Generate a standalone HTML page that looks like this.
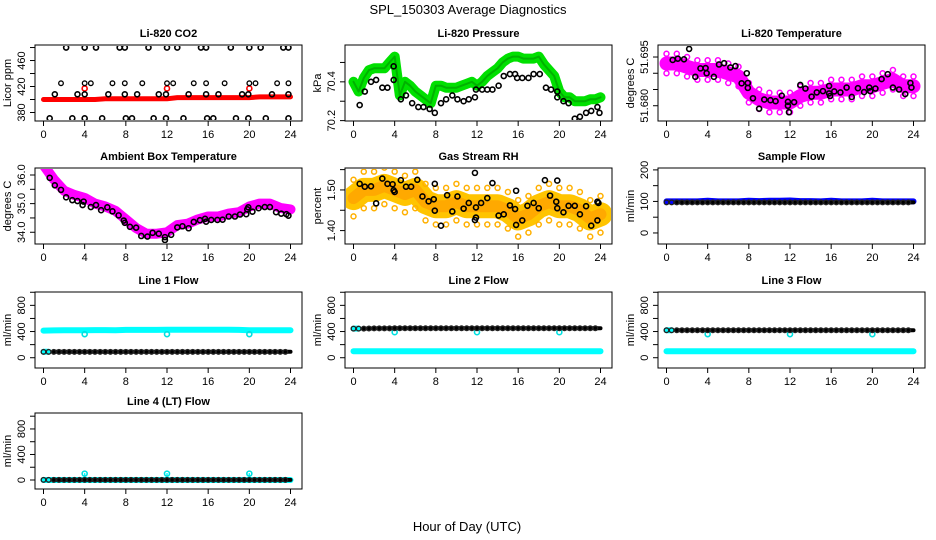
<!DOCTYPE html>
<html><head><meta charset="utf-8"><style>
html,body{margin:0;padding:0;background:#fff;}
svg{display:block;font-family:"Liberation Sans",Arial,sans-serif;}
</style></head><body>
<svg id="c" width="936" height="540" viewBox="0 0 936 540" xmlns="http://www.w3.org/2000/svg">
<text x="468" y="14" text-anchor="middle" font-size="13">SPL_150303  Average Diagnostics</text>
<text x="467" y="531" text-anchor="middle" font-size="13">Hour of Day (UTC)</text>
</svg>
<script>
// ---------- data ----------
const hours = [0,1,2,3,4,5,6,7,8,9,10,11,12,13,14,15,16,17,18,19,20,21,22,23,24];
const halfHours = [0,0.5,1,1.5,2,2.5,3,3.5,4,4.5,5,5.5,6,6.5,7,7.5,8,8.5,9,9.5,10,10.5,11,11.5,12,12.5,13,13.5,14,14.5,15,15.5,16,16.5,17,17.5,18,18.5,19,19.5,20,20.5,21,21.5,22,22.5,23,23.5,24];
const xTicks = [0,4,8,12,16,20,24];

// CO2
const co2Red = [400,400,400,400,400,400,401,401,401,401,401,401,401,403,403,403,403,403,403,403,403,404,404,404,404];
const co2RedOutX = [4,12,20];
const co2RedOutY = [417,417,417];
const co2HiX = [2.2,4,5.1,7.4,7.9,10.2,12,13,15.3,15.8,18.2,20,21.1,23.3,23.8];
const co2HiY = [480,480,480,480,480,480,480,480,480,480,480,480,480,480,480];
const co2MidX = [1.7,4,4.6,6.7,7.9,9.6,12,12.6,14.6,15.8,17.6,20,20.6,22.7,23.8];
const co2MidY = [425,425,425,425,425,425,425,425,425,425,425,425,425,425,425];
const co2LowX = [1.1,3.3,4,6.3,7.9,9.1,11.2,11.9,14.1,15.8,17,19.3,19.9,22.2,23.8];
const co2LowY = [408,408,408,408,408,408,408,408,408,408,408,408,408,408,408];
const co2BotX = [0.6,2.8,4,5.7,8,8.6,10.7,11.9,13.6,15.9,16.5,18.7,19.9,21.6,23.8];
const co2BotY = [371,371,371,371,371,371,371,371,371,371,371,371,371,371,371];

// Pressure
const presGreen = [70.40,70.35,70.42,70.46,70.47,70.47,70.47,70.50,70.53,70.33,70.40,70.38,70.35,70.33,70.31,70.29,70.38,70.38,70.37,70.37,70.37,70.38,70.39,70.40,70.38,70.40,70.43,70.45,70.47,70.50,70.52,70.53,70.53,70.52,70.52,70.52,70.53,70.49,70.46,70.43,70.35,70.32,70.32,70.30,70.30,70.30,70.31,70.31,70.32];
const presBlkX = [0.6,1.1,1.7,2.2,2.8,3.3,3.9,3.9,4.6,5.1,5.7,6.3,6.8,7.4,7.9,8.5,9,9.6,10.1,10.7,11.2,11.8,11.9,12.5,13,13.5,14.1,14.6,15.2,15.7,15.9,16.4,17,17.5,18.1,18.7,19.2,19.8,19.8,20.4,20.9,21.5,22,22.6,23.1,23.7,23.9];
const presBlkY = [70.28,70.35,70.40,70.41,70.37,70.37,70.48,70.41,70.31,70.33,70.29,70.27,70.27,70.26,70.24,70.29,70.31,70.33,70.31,70.30,70.31,70.32,70.36,70.36,70.36,70.36,70.38,70.43,70.44,70.44,70.42,70.42,70.42,70.44,70.44,70.37,70.36,70.35,70.32,70.30,70.29,70.21,70.22,70.24,70.25,70.27,70.24];

// Li-820 temperature
const tempMag = [51.6930,51.6930,51.6920,51.6910,51.6910,51.6910,51.6900,51.6890,51.6840,51.6820,51.6810,51.6810,51.6810,51.6830,51.6840,51.6840,51.6850,51.6850,51.6850,51.6860,51.6860,51.6870,51.6880,51.6860,51.6860];
const tempBlkX = [0.6,1.1,1.7,2.2,2.8,3.3,3.8,3.9,4.6,5.1,5.6,6.2,6.7,7.3,7.8,7.9,7.9,8.4,9.0,9.5,10.1,10.6,11.2,11.8,11.9,11.8,12.4,13,13.5,14.1,14.6,15.2,15.8,15.8,15.9,16.3,16.9,17.5,18.0,18.6,19.2,19.7,19.8,20.3,20.9,21.5,22.0,22.6,23.2,23.7,23.8];
const tempBlkY = [51.6941,51.6945,51.6943,51.6975,51.6889,51.6915,51.6916,51.6900,51.6889,51.6927,51.6931,51.6918,51.6922,51.6869,51.6900,51.6855,51.6870,51.6823,51.6791,51.6819,51.6817,51.6814,51.6831,51.6800,51.6780,51.6812,51.6811,51.6864,51.6853,51.6828,51.6841,51.6845,51.6861,51.6838,51.6830,51.6844,51.6841,51.6856,51.6827,51.6854,51.6842,51.6856,51.6845,51.6853,51.6882,51.6897,51.6856,51.6850,51.6836,51.6870,51.6856];

// Ambient box temperature
const ambMag = [36.35,35.85,35.45,35.30,35.20,35.00,34.90,34.75,34.45,34.15,33.95,33.95,34.00,34.25,34.30,34.45,34.55,34.55,34.65,34.70,34.90,35.00,35.00,34.85,34.80];
const ambBlkX = [0.6,1.1,1.7,2.2,2.8,3.3,3.8,3.9,4.6,5.1,5.6,6.2,6.7,7.3,7.8,7.9,8.4,9.0,9.5,10.1,10.6,11.2,11.8,11.8,12.4,13,13.5,14.1,14.6,15.2,15.7,15.8,16.3,16.9,17.4,18,18.6,19.1,19.7,19.8,19.9,20.3,20.9,21.5,22.0,22.6,23.1,23.6,23.8];
const ambBlkY = [35.90,35.64,35.48,35.22,35.12,35.09,34.95,35.07,34.88,34.95,34.77,34.87,34.73,34.59,34.41,34.33,34.19,34.16,33.87,33.85,33.98,33.95,33.83,33.73,33.91,34.17,34.21,34.14,34.36,34.42,34.47,34.37,34.43,34.43,34.44,34.55,34.55,34.62,34.63,34.80,34.87,34.72,34.84,34.88,34.88,34.70,34.65,34.63,34.58];

// Gas stream RH
const rhOrange = [1.48,1.50,1.50,1.51,1.50,1.49,1.50,1.47,1.46,1.46,1.47,1.46,1.46,1.46,1.46,1.45,1.43,1.44,1.46,1.47,1.46,1.46,1.45,1.43,1.44];
const rhBlkX = [0.6,1.1,1.7,2.2,2.8,3.3,3.8,3.9,4.0,4.6,5.1,5.6,6.2,6.7,7.3,7.8,7.9,7.9,8.5,9.1,9.6,10.1,10.7,11.2,11.8,11.8,11.9,11.9,12.4,13.0,13.5,14.1,14.6,15.2,15.7,15.8,15.8,16.4,16.9,17.5,18.0,18.6,19.1,19.7,19.8,19.8,20.4,20.9,21.5,22.0,22.6,23.1,23.7,23.7,23.8];
const rhBlkY = [1.515,1.508,1.509,1.467,1.528,1.515,1.514,1.499,1.495,1.524,1.508,1.508,1.525,1.484,1.472,1.477,1.515,1.449,1.412,1.487,1.447,1.484,1.454,1.468,1.542,1.426,1.432,1.457,1.468,1.480,1.517,1.437,1.440,1.462,1.453,1.498,1.414,1.425,1.461,1.468,1.455,1.524,1.486,1.471,1.523,1.455,1.445,1.461,1.461,1.440,1.460,1.412,1.425,1.471,1.468];

// Flows (hourly)
const sampleBlue = [100,100,100,100,102,100,100,100,102,101,102,102,103,101,101,100,102,100,100,100,102,100,100,100,100];
const sampleBlack = [97,97,97,97,97,97,97,97,97,97,97,97,97,97,97,97,97,97,97,97,97,97,97,97,97];
const line1Cyan = [415,418,420,420,420,422,422,420,425,425,425,425,428,428,428,428,428,428,428,425,420,420,420,420,420];
const line1Black = [90,90,90,90,90,90,90,90,90,90,90,90,90,90,90,90,90,90,90,90,90,90,90,90,90];
const line2Cyan = [100,100,100,100,100,100,100,100,100,100,100,100,100,100,100,100,100,100,100,100,100,100,100,100,100];
const line2Black = [445,445,448,448,450,450,450,450,450,450,450,450,450,450,450,450,450,450,450,450,450,450,450,450,450];
const line3Cyan = [100,100,100,100,100,100,100,100,100,100,100,100,100,100,100,100,100,100,100,100,100,100,100,100,100];
const line3Black = [420,420,420,420,420,420,420,420,420,420,420,420,420,420,420,420,420,420,420,420,420,420,420,420,420];
const line4Cyan = [0,0,0,0,0,0,0,0,0,0,0,0,0,0,0,0,0,0,0,0,0,0,0,0,0];
const line4Black = [2,2,2,2,2,2,2,2,2,2,2,2,2,2,2,2,2,2,2,2,2,2,2,2,2];
const dipX = [4,12,20];
const line1Dip = [360,360,360];
const line2Dip = [390,390,390];
const line3Dip = [360,360,360];
const line4Spike = [100,100,100];

// ---------- drawing ----------
const NS = 'http://www.w3.org/2000/svg';
const svg = document.getElementById('c');
function mk(tag, attrs, parent){
  const e = document.createElementNS(NS, tag);
  for (const k in attrs) e.setAttribute(k, attrs[k]);
  (parent||svg).appendChild(e);
  return e;
}
const COLS = [35, 345, 658];
const ROWS = [45, 168, 292, 413];
const W = 267, H = 76;

function panel(name, title, ylab, col, row, ylo, yhi, yticks, ylabels){
  const L = COLS[col], T = ROWS[row];
  const g = mk('g', {});
  
  
  const xs = v => L + 8.5 + v * (247/24);
  const ys = v => T + H - (v - ylo) / (yhi - ylo) * H;
  const t = mk('text', {x: L + W/2, y: T - 8, 'text-anchor':'middle', 'font-size':11, 'font-weight':'bold'}, g);
  t.textContent = title;
  
  
  const box = mk('rect', {x:L, y:T, width:W, height:H, fill:'none', stroke:'#000', 'stroke-width':1}, g);
  
  
  const xa = mk('g', {}, g);
  
  
  mk('line', {x1:xs(0), x2:xs(24), y1:T+H, y2:T+H, stroke:'#000'}, xa);
  xTicks.forEach(v => {
    mk('line', {x1:xs(v), x2:xs(v), y1:T+H, y2:T+H+5, stroke:'#000'}, xa);
    const l = mk('text', {x:xs(v), y:T+H+17, 'text-anchor':'middle', 'font-size':11}, xa);
    l.textContent = v;
    
    
  });
  const ya = mk('g', {}, g);
  
  
  mk('line', {x1:L, x2:L, y1:ys(yticks[0]), y2:ys(yticks[yticks.length-1]), stroke:'#000'}, ya);
  yticks.forEach((v,i) => {
    mk('line', {x1:L-5, x2:L, y1:ys(v), y2:ys(v), stroke:'#000'}, ya);
    if (ylabels[i] !== '') {
      const l = mk('text', {x:L-10, y:ys(v), 'text-anchor':'middle', 'font-size':11, transform:`rotate(-90 ${L-10} ${ys(v)})`}, ya);
      l.textContent = ylabels[i];
      
      
    }
  });
  const yt = mk('text', {x:L-24, y:T+H/2, 'text-anchor':'middle', 'font-size':11, transform:`rotate(-90 ${L-24} ${T+H/2})`}, g);
  yt.textContent = ylab;
  
  
  const clip = 'clip-' + name;
  const cp = mk('clipPath', {id: clip}, g);
  mk('rect', {x:L+1, y:T+1, width:W-2, height:H-2}, cp);
  const plot = mk('g', {'clip-path': `url(#${clip})`}, g);
  return {xs, ys, plot};
}
function band(p, xarr, yarr, color, width, name){
  const pts = xarr.map((x,i) => p.xs(x).toFixed(1) + ',' + p.ys(yarr[i]).toFixed(1)).join(' ');
  const pl = mk('polyline', {points: pts, fill:'none', stroke:color, 'stroke-width':width, 'stroke-linejoin':'round', 'stroke-linecap':'round'}, p.plot);
  
  
}
function pts(p, xarr, yarr, color, name, r, sw){
  xarr.forEach((x,i) => {
    const c = mk('circle', {cx:p.xs(x), cy:p.ys(yarr[i]), r:r||2.5, fill:'none', stroke:color, 'stroke-width':sw||1.6}, p.plot);
    
    
  });
}
function halfPts(p, yarr, color, name){
  hours.forEach((h,i) => {
    if (i < hours.length-1) {
      pts(p, [h, h+0.5], [yarr[i], (yarr[i]+yarr[i+1])/2], color, name, 2.3, 1.4);
    }
  });
}

// CO2
let p = panel('co2', 'Li-820 CO2', 'Licor ppm', 0, 0, 366.9, 483.9, [380,400,420,440,460,480], ['380','','420','','460','']);
band(p, hours, co2Red, '#ff0000', 5, 'co2-red-series');
pts(p, co2RedOutX, co2RedOutY, '#ff0000', 'co2-red-outlier');
pts(p, co2HiX, co2HiY, '#000', 'co2-black-point');
pts(p, co2MidX, co2MidY, '#000', 'co2-black-point', 2.3, 1.3);
pts(p, co2LowX, co2LowY, '#000', 'co2-black-point');
pts(p, co2BotX, co2BotY, '#000', 'co2-black-point');

// Pressure
p = panel('pressure', 'Li-820 Pressure', 'kPa', 1, 0, 70.198, 70.59, [70.2,70.3,70.4,70.5], ['70.2','','70.4','']);
band(p, halfHours, presGreen, '#00e000', 10, 'pressure-green-series');
band(p, halfHours, presGreen, 'rgba(0,90,0,0.35)', 2, 'pressure-green-dots');
pts(p, presBlkX, presBlkY, '#000', 'pressure-black-point');

// Li-820 temperature
p = panel('li820-temp', 'Li-820 Temperature', 'degrees C', 2, 0, 51.6753, 51.6987, [51.680,51.685,51.690,51.695], ['51.680','','','51.695']);
band(p, hours, tempMag, '#ff00ff', 14, 'li820-temp-magenta-series');
pts(p, hours, tempMag.map(v=>v+0.003), '#ff00ff', 'li820-temp-magenta-point', 2.5, 1.5);
pts(p, hours, tempMag.map(v=>v-0.003), '#ff00ff', 'li820-temp-magenta-point', 2.5, 1.5);
pts(p, tempBlkX, tempBlkY, '#000', 'li820-temp-black-point');

// Ambient
p = panel('ambient-temp', 'Ambient Box Temperature', 'degrees C', 0, 1, 33.59, 36.244, [34.0,34.5,35.0,35.5,36.0], ['34.0','','35.0','','36.0']);
band(p, hours, ambMag, '#ff00ff', 10, 'ambient-magenta-series');
pts(p, ambBlkX, ambBlkY, '#000', 'ambient-black-point');

// RH
p = panel('rh', 'Gas Stream RH', 'percent', 1, 1, 1.367, 1.554, [1.40,1.45,1.50,1.55], ['1.40','','1.50','']);
band(p, hours, rhOrange, '#ffc400', 24, 'rh-orange-series');
pts(p, hours, rhOrange.map(v=>v+0.045), '#ffb000', 'rh-orange-point', 2.5, 1.5);
pts(p, hours, rhOrange.map(v=>v-0.045), '#ffb000', 'rh-orange-point', 2.5, 1.5);
band(p, hours, rhOrange, 'rgba(255,120,0,0.35)', 12, 'rh-red-dots');
pts(p, rhBlkX, rhBlkY, '#000', 'rh-black-point');

// Sample flow
p = panel('sample-flow', 'Sample Flow', 'ml/min', 2, 1, -35, 206, [0,50,100,150,200], ['0','','100','','200']);
band(p, hours, sampleBlue, '#0000ff', 6, 'sample-blue-series');
band(p, hours.slice(1), sampleBlack.slice(1), '#000', 4, 'sample-black-series');
halfPts(p, sampleBlack, '#222', 'sample-black-point');

// Line 1
const flowTicks = [0,200,400,600,800,1000], flowLabels = ['0','','400','','800',''];
p = panel('line1-flow', 'Line 1 Flow', 'ml/min', 0, 2, -157, 1004, flowTicks, flowLabels);
band(p, hours, line1Cyan, '#00ffff', 6, 'line1-cyan-series');
band(p, [0,0.5], [90,90], '#00ffff', 6, 'line1-cyan-low');
pts(p, dipX, line1Dip, '#00e0e0', 'line1-cyan-dip');
band(p, hours.slice(1), line1Black.slice(1), '#000', 4, 'line1-black-series');
halfPts(p, line1Black, '#222', 'line1-black-point');

// Line 2
p = panel('line2-flow', 'Line 2 Flow', 'ml/min', 1, 2, -157, 1004, flowTicks, flowLabels);
band(p, hours, line2Cyan, '#00ffff', 6, 'line2-cyan-series');
band(p, [0,0.5], [445,445], '#00ffff', 6, 'line2-cyan-high');
pts(p, dipX, line2Dip, '#00e0e0', 'line2-cyan-dip');
band(p, hours.slice(1), line2Black.slice(1), '#000', 4, 'line2-black-series');
halfPts(p, line2Black, '#222', 'line2-black-point');

// Line 3
p = panel('line3-flow', 'Line 3 Flow', 'ml/min', 2, 2, -157, 1004, flowTicks, flowLabels);
band(p, hours, line3Cyan, '#00ffff', 6, 'line3-cyan-series');
band(p, [0,0.5], [420,420], '#00ffff', 6, 'line3-cyan-high');
pts(p, dipX, line3Dip, '#00e0e0', 'line3-cyan-dip');
band(p, hours.slice(1), line3Black.slice(1), '#000', 4, 'line3-black-series');
halfPts(p, line3Black, '#222', 'line3-black-point');

// Line 4
p = panel('line4-flow', 'Line 4 (LT) Flow', 'ml/min', 0, 3, -141, 1050, flowTicks, flowLabels);
band(p, hours, line4Cyan, '#00ffff', 6, 'line4-cyan-series');
dipX.forEach((x,i) => band(p, [x,x], [0,line4Spike[i]], '#00ffff', 1.5, 'line4-cyan-spike-stem'));
pts(p, dipX, line4Spike, '#00e0e0', 'line4-cyan-spike');
band(p, hours.slice(1), line4Black.slice(1), '#000', 4, 'line4-black-series');
halfPts(p, line4Black, '#222', 'line4-black-point');
</script>
</body></html>
